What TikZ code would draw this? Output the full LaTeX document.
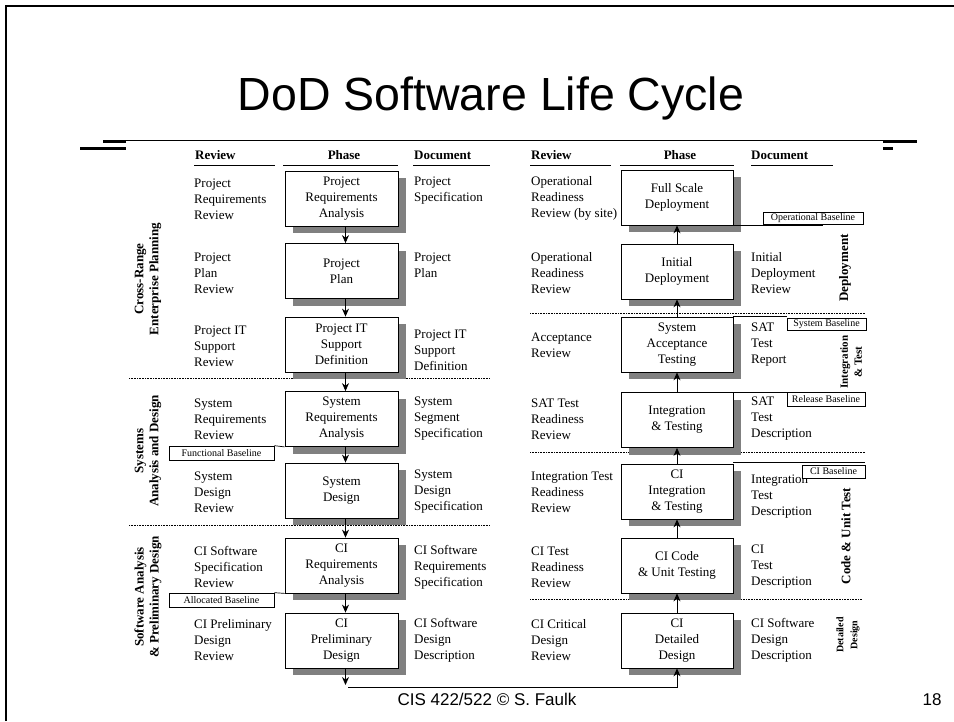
\documentclass[tikz,border=0pt]{standalone}
\usepackage{fontspec}
\setmainfont{Liberation Serif}
\newfontfamily\sansf{Liberation Sans}
\usetikzlibrary{arrows.meta,shadows}
\definecolor{shadowgray}{HTML}{808080}
\begin{document}
\begin{tikzpicture}[x=1pt,y=-1pt,
  txt/.style={font=\fontsize{13}{16}\selectfont, align=left, inner sep=0pt, anchor=west},
  hdr/.style={font=\fontsize{13}{16}\selectfont\bfseries, inner sep=0pt},
  phasebox/.style={draw, line width=0.8pt, fill=white, minimum width=113pt, minimum height=55pt,
    inner sep=0pt, align=center, font=\fontsize{13}{16}\selectfont,
    general shadow={fill=shadowgray, shadow xshift=8pt, shadow yshift=-7pt}},
  sidelab/.style={font=\fontsize{13}{15}\selectfont\bfseries, align=center, rotate=90, inner sep=0pt},
  blab/.style={draw, line width=0.7pt, fill=white, font=\fontsize{10}{11}\selectfont, inner sep=0pt},
  arr/.style={-{Stealth[length=8pt,width=7pt]}, line width=0.8pt},
  sep/.style={densely dotted, line width=0.6pt},
  uline/.style={line width=0.8pt}
]
\useasboundingbox (0,0) rectangle (954,721);
% slide frame
\draw[line width=2pt] (6,721) -- (6,6) -- (954,6);
% title
\node[font=\sansf\fontsize{46.5}{50}\selectfont, anchor=base, inner sep=0pt] (title) at (491,110) {DoD Software Life Cycle};
% top rules
\draw[line width=1pt] (103,140) -- (917,140);
\draw[line width=3pt] (103,141) -- (126,141);
\draw[line width=3pt] (80,148.5) -- (126,148.5);
\draw[line width=3pt] (883,141) -- (917,141);
\draw[line width=3pt] (883,148.5) -- (893,148.5);
% headers
\node[hdr, anchor=west] (hrl) at (195,155) {Review};
\node[hdr] (hpl) at (344,155) {Phase};
\node[hdr, anchor=west] (hdl) at (414,155) {Document};
\node[hdr, anchor=west] (hrr) at (531,155) {Review};
\node[hdr] (hpr) at (680,155) {Phase};
\node[hdr, anchor=west] (hdr2) at (751,155) {Document};
\draw[uline] (194,165) -- (275,165);
\draw[uline] (283,165) -- (398,165);
\draw[uline] (413,165) -- (490,165);
\draw[uline] (530,165) -- (611,165);
\draw[uline] (620,165) -- (734,165);
\draw[uline] (751,165) -- (833,165);
% separators
\draw[sep] (129,378) -- (490,378);
\draw[sep] (129,525) -- (490,525);
\draw[sep] (530,313) -- (865,313);
\draw[sep] (530,452) -- (865,452);
\draw[sep] (530,599) -- (862,599);
% left phase boxes
\node[phasebox] (b1) at (341.5,198.5) {Project\\Requirements\\Analysis};
\node[phasebox] (b2) at (341.5,271) {Project\\Plan};
\node[phasebox] (b3) at (341.5,344.5) {Project IT\\Support\\Definition};
\node[phasebox] (b4) at (341.5,419) {System\\Requirements\\Analysis};
\node[phasebox] (b5) at (341.5,490.5) {System\\Design};
\node[phasebox] (b6) at (341.5,565.5) {CI\\Requirements\\Analysis};
\node[phasebox] (b7) at (341.5,640.5) {CI\\Preliminary\\Design};
% right phase boxes
\node[phasebox, minimum width=112pt] (r1) at (677,197.5) {Full Scale\\Deployment};
\node[phasebox, minimum width=112pt] (r2) at (677,271.5) {Initial\\Deployment};
\node[phasebox, minimum width=112pt] (r3) at (677,344.5) {System\\Acceptance\\Testing};
\node[phasebox, minimum width=112pt] (r4) at (677,420) {Integration\\\& Testing};
\node[phasebox, minimum width=112pt] (r5) at (677,491.5) {CI\\Integration\\\& Testing};
\node[phasebox, minimum width=112pt] (r6) at (677,565.5) {CI Code\\\& Unit Testing};
\node[phasebox, minimum width=112pt] (r7) at (677,640.5) {CI\\Detailed\\Design};
% left review texts
\node[txt] (lr1) at (194,199) {Project\\Requirements\\Review};
\node[txt] (lr2) at (194,273) {Project\\Plan\\Review};
\node[txt] (lr3) at (194,346) {Project IT\\Support\\Review};
\node[txt] (lr4) at (194,419) {System\\Requirements\\Review};
\node[txt] (lr5) at (194,492) {System\\Design\\Review};
\node[txt] (lr6) at (194,567) {CI Software\\Specification\\Review};
\node[txt] (lr7) at (194,640) {CI Preliminary\\Design\\Review};
% left document texts
\node[txt] (ld1) at (414,191) {Project\\Specification};
\node[txt] (ld2) at (414,265) {Project\\Plan};
\node[txt] (ld3) at (414,350) {Project IT\\Support\\Definition};
\node[txt] (ld4) at (414,419) {System\\Segment\\Specification};
\node[txt] (ld5) at (414,492) {System\\Design\\Specification};
\node[txt] (ld6) at (414,567) {CI Software\\Requirements\\Specification};
\node[txt] (ld7) at (414,640) {CI Software\\Design\\Description};
% right review texts
\node[txt] (rr1) at (531,198) {Operational\\Readiness\\Review (by site)};
\node[txt] (rr2) at (531,273) {Operational\\Readiness\\Review};
\node[txt] (rr3) at (531,345) {Acceptance\\Review};
\node[txt] (rr4) at (531,419) {SAT Test\\Readiness\\Review};
\node[txt] (rr5) at (531,492) {Integration Test\\Readiness\\Review};
\node[txt] (rr6) at (531,567) {CI Test\\Readiness\\Review};
\node[txt] (rr7) at (531,640) {CI Critical\\Design\\Review};
% right document texts
\node[txt] (rd2) at (751,273) {Initial\\Deployment\\Review};
\node[txt] (rd3) at (751,345) {SAT\\Test\\Report};
\node[txt] (rd4) at (751,419) {SAT\\Test\\Description};
\node[txt] (rd5) at (751,497) {Integration\\Test\\Description};
\node[txt] (rd6) at (751,567) {CI\\Test\\Description};
\node[txt] (rd7) at (751,640) {CI Software\\Design\\Description};
% side labels
\node[sidelab] (s1) at (148,279) {Cross-Range\\Enterprise Planning};
\node[sidelab] (s2) at (148,451) {Systems\\Analysis and Design};
\node[sidelab] (s3) at (148,597) {Software Analysis\\\& Preliminary Design};
\node[sidelab] (s4) at (845,268) {Deployment};
\node[sidelab, font=\fontsize{11}{14}\selectfont\bfseries] (s5) at (851,362) {Integration\\\& Test};
\node[sidelab] (s6) at (846,536) {Code \& Unit Test};
\node[sidelab, font=\fontsize{10}{14}\selectfont\bfseries] (s7) at (848,635) {Detailed\\Design};
% baseline labels
\node[blab, minimum width=105pt, minimum height=14pt] (fb) at (221.5,453) {Functional Baseline};
\node[blab, minimum width=105pt, minimum height=14pt] (ab) at (221.5,600) {Allocated Baseline};
\node[blab, minimum width=100pt, minimum height=12pt] (ob) at (813,218) {Operational Baseline};
\node[blab, minimum width=79pt, minimum height=12pt] (sb) at (826.5,324) {System Baseline};
\node[blab, minimum width=78pt, minimum height=14pt] (rb) at (826,399) {Release Baseline};
\node[blab, minimum width=63pt, minimum height=13pt] (cb) at (833.5,471.5) {CI Baseline};
\draw[line width=0.7pt] (b4.south west) -- (fb.north east);
\draw[line width=0.7pt] (b6.south west) -- (ab.north east);
\draw[line width=0.7pt] (r1.south east) -- ([xshift=10pt]ob.south |- r1.south east);
\draw[line width=0.7pt] (r3.north east) -- (r3.north east -| sb.west);
\draw[line width=0.7pt] (r4.north east) -- (r4.north east -| rb.west);
\draw[line width=0.7pt] ([yshift=1.5pt]r5.north east) -- ([yshift=1.5pt]r5.north east -| cb.east);
% arrows left (downwards)
\draw[arr] ([xshift=4pt]b1.south) -- ([xshift=4pt]b2.north);
\draw[arr] ([xshift=4pt]b2.south) -- ([xshift=4pt]b3.north);
\draw[arr] ([xshift=4pt]b3.south) -- ([xshift=4pt]b4.north);
\draw[arr] ([xshift=4pt]b4.south) -- ([xshift=4pt]b5.north);
\draw[arr] ([xshift=4pt]b5.south) -- ([xshift=4pt]b6.north);
\draw[arr] ([xshift=4pt]b6.south) -- ([xshift=4pt]b7.north);
% arrows right (upwards)
\draw[arr] (r2.north) -- (r1.south);
\draw[arr] (r3.north) -- (r2.south);
\draw[arr] (r4.north) -- (r3.south);
\draw[arr] (r5.north) -- (r4.south);
\draw[arr] (r6.north) -- (r5.south);
\draw[arr] (r7.north) -- (r6.south);
% bottom connector
\coordinate (lo) at (346,685);
\coordinate (lc) at (348,687);
\draw[arr] ([xshift=4pt]b7.south) -- ([xshift=4pt]b7.south |- lo);
\draw[arr] (lc) -| (r7.south);
% footer
\node[font=\sansf\fontsize{17}{20}\selectfont, anchor=base, inner sep=0pt] (foot) at (487,705) {CIS 422/522 © S. Faulk};
\node[font=\sansf\fontsize{17}{20}\selectfont, anchor=base, inner sep=0pt] (pg) at (932,705) {18};
\end{tikzpicture}
\end{document}
